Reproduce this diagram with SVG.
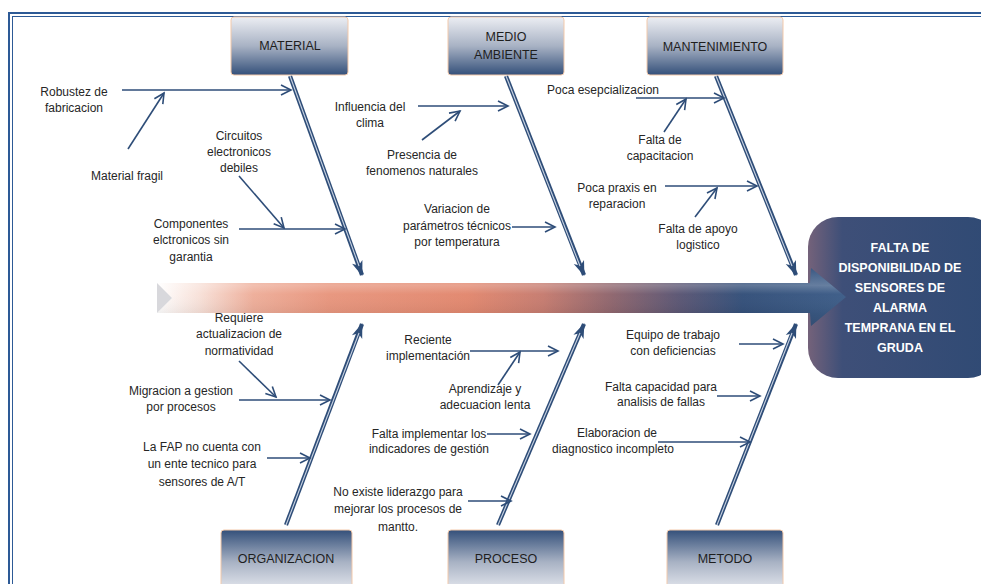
<svg xmlns="http://www.w3.org/2000/svg" width="981" height="584" viewBox="0 0 981 584">
<style>
.t{font-family:"Liberation Sans",Arial,sans-serif;font-size:12px;fill:#262626;text-anchor:middle}
.bl{font-family:"Liberation Sans",Arial,sans-serif;font-size:12.5px;fill:#1e1e1e;text-anchor:middle}
.h{font-family:"Liberation Sans",Arial,sans-serif;font-size:12.5px;font-weight:bold;fill:#ffffff;text-anchor:middle}
.a{stroke:#2e4d78;stroke-width:1.6;fill:none}
.bo{stroke:#2e4d78;stroke-width:4.2;fill:none}
.bi{stroke:#c9d3e2;stroke-width:1.1;fill:none}
.tb{fill:url(#gTop);stroke:#f3c9aa;stroke-width:1}
.bb{fill:url(#gBot);stroke:#f3c9aa;stroke-width:1}
</style>
<defs>
<marker id="ah" markerUnits="userSpaceOnUse" markerWidth="14" markerHeight="14" viewBox="-12 -7 14 14" refX="0" refY="0" orient="auto">
<path d="M-10,-5 L0,0 L-10,5" fill="none" stroke="#2e4d78" stroke-width="1.6"/>
</marker>
<marker id="bh" markerUnits="userSpaceOnUse" markerWidth="18" markerHeight="14" viewBox="-16 -7 18 14" refX="0" refY="0" orient="auto">
<path d="M-14,-5.5 L1,0 L-14,5.5 L-10,0 z" fill="#2e4d78"/>
</marker>
<linearGradient id="gTop" x1="0" y1="0" x2="0" y2="1">
<stop offset="0" stop-color="#eceef3"/>
<stop offset="0.5" stop-color="#a8b2c4"/>
<stop offset="1" stop-color="#34507a"/>
</linearGradient>
<linearGradient id="gBot" x1="0" y1="0" x2="0" y2="1">
<stop offset="0" stop-color="#34507a"/>
<stop offset="0.5" stop-color="#a8b2c4"/>
<stop offset="1" stop-color="#eceef3"/>
</linearGradient>
<linearGradient id="gSpine" x1="157" y1="0" x2="846" y2="0" gradientUnits="userSpaceOnUse">
<stop offset="0" stop-color="#ffffff"/>
<stop offset="0.06" stop-color="#f8e2da"/>
<stop offset="0.14" stop-color="#eeae9a"/>
<stop offset="0.25" stop-color="#e8967e"/>
<stop offset="0.45" stop-color="#e2886f"/>
<stop offset="0.56" stop-color="#c67c70"/>
<stop offset="0.66" stop-color="#8f666e"/>
<stop offset="0.76" stop-color="#5a5674"/>
<stop offset="0.85" stop-color="#34507a"/>
<stop offset="1" stop-color="#3d5d88"/>
</linearGradient>
<linearGradient id="gShine" x1="0" y1="268" x2="0" y2="326" gradientUnits="userSpaceOnUse">
<stop offset="0" stop-color="#ffffff" stop-opacity="0"/>
<stop offset="0.3" stop-color="#ffffff" stop-opacity="0.22"/>
<stop offset="0.45" stop-color="#ffffff" stop-opacity="0.02"/>
<stop offset="0.8" stop-color="#000000" stop-opacity="0.06"/>
<stop offset="1" stop-color="#000000" stop-opacity="0.12"/>
</linearGradient>
<linearGradient id="gHead" x1="0" y1="0" x2="1" y2="0">
<stop offset="0" stop-color="#74627a"/>
<stop offset="0.18" stop-color="#3e4f78"/>
<stop offset="1" stop-color="#2f4a74"/>
</linearGradient>
</defs>

<rect x="0" y="0" width="981" height="584" fill="#ffffff"/>
<g id="frame" fill="none" stroke="#2d5a96">
<rect x="9" y="13" width="990" height="600" stroke-width="2"/>
<rect x="12.5" y="16.5" width="990" height="600" stroke-width="1"/>
</g>

<g id="effect">
<rect x="808" y="217" width="190" height="161" rx="30" fill="url(#gHead)"/>
<text class="h" x="900" y="252">FALTA DE</text>
<text class="h" x="900" y="272">DISPONIBILIDAD DE</text>
<text class="h" x="900" y="292">SENSORES DE</text>
<text class="h" x="900" y="312">ALARMA</text>
<text class="h" x="900" y="332">TEMPRANA EN EL</text>
<text class="h" x="900" y="352">GRUDA</text>
</g>

<g id="spine">
<path d="M157,283 L810,283 L811,268 L846,297 L811,326 L810,313 L157,313 L172,298 z" fill="url(#gSpine)"/>
<path d="M157,283 L810,283 L811,268 L846,297 L811,326 L810,313 L157,313 L172,298 z" fill="url(#gShine)"/>
<path d="M157,283 L172,298 L157,313 z" fill="#d8d8dc"/>
</g>

<g id="connectors">
<line class="bo" x1="290" y1="76" x2="362" y2="275" marker-end="url(#bh)"/>
<line class="bi" x1="290" y1="76" x2="359" y2="266"/>
<line class="bo" x1="506" y1="76" x2="584" y2="275" marker-end="url(#bh)"/>
<line class="bi" x1="506" y1="76" x2="580" y2="266"/>
<line class="bo" x1="716" y1="76" x2="796" y2="275" marker-end="url(#bh)"/>
<line class="bi" x1="716" y1="76" x2="792" y2="266"/>
<line class="bo" x1="286" y1="525" x2="362" y2="324" marker-end="url(#bh)"/>
<line class="bi" x1="286" y1="525" x2="359" y2="333"/>
<line class="bo" x1="498" y1="525" x2="584" y2="324" marker-end="url(#bh)"/>
<line class="bi" x1="498" y1="525" x2="580" y2="333"/>
<line class="bo" x1="717" y1="525" x2="796" y2="324" marker-end="url(#bh)"/>
<line class="bi" x1="717" y1="525" x2="792" y2="333"/>

<line class="a" x1="122" y1="90" x2="291" y2="90" marker-end="url(#ah)"/>
<line class="a" x1="128" y1="149" x2="164" y2="93" marker-end="url(#ah)"/>
<line class="a" x1="239" y1="176" x2="284" y2="228" marker-end="url(#ah)"/>
<line class="a" x1="239" y1="229" x2="345" y2="229" marker-end="url(#ah)"/>
<line class="a" x1="418" y1="106" x2="508" y2="106" marker-end="url(#ah)"/>
<line class="a" x1="422" y1="140" x2="460" y2="111" marker-end="url(#ah)"/>
<line class="a" x1="512" y1="227" x2="555" y2="227" marker-end="url(#ah)"/>
<line class="a" x1="636" y1="98" x2="724" y2="98" marker-end="url(#ah)"/>
<line class="a" x1="664" y1="132" x2="686" y2="99" marker-end="url(#ah)"/>
<line class="a" x1="665" y1="186" x2="757" y2="186" marker-end="url(#ah)"/>
<line class="a" x1="695" y1="217" x2="717" y2="188" marker-end="url(#ah)"/>
<line class="a" x1="239" y1="361" x2="276" y2="397" marker-end="url(#ah)"/>
<line class="a" x1="239" y1="400" x2="330" y2="400" marker-end="url(#ah)"/>
<line class="a" x1="267" y1="458" x2="310" y2="458" marker-end="url(#ah)"/>
<line class="a" x1="470" y1="351" x2="558" y2="351" marker-end="url(#ah)"/>
<line class="a" x1="498" y1="385" x2="520" y2="352" marker-end="url(#ah)"/>
<line class="a" x1="487" y1="434" x2="530" y2="434" marker-end="url(#ah)"/>
<line class="a" x1="468" y1="501" x2="511" y2="501" marker-end="url(#ah)"/>
<line class="a" x1="739" y1="344" x2="783" y2="344" marker-end="url(#ah)"/>
<line class="a" x1="717" y1="396" x2="760" y2="396" marker-end="url(#ah)"/>
<line class="a" x1="658" y1="442" x2="750" y2="442" marker-end="url(#ah)"/>
</g>

<g id="material"><rect class="tb" x="231" y="17" width="117" height="58" rx="3"/><text class="bl" x="290" y="50">MATERIAL</text></g>
<g id="medio-ambiente"><rect class="tb" x="448" y="17" width="116" height="58" rx="3"/><text class="bl" x="506" y="41">MEDIO</text><text class="bl" x="506" y="59">AMBIENTE</text></g>
<g id="mantenimiento"><rect class="tb" x="647" y="17" width="136" height="58" rx="3"/><text class="bl" x="715" y="51">MANTENIMIENTO</text></g>
<g id="organizacion"><rect class="bb" x="221" y="530" width="131" height="64" rx="3"/><text class="bl" x="286" y="563">ORGANIZACION</text></g>
<g id="proceso"><rect class="bb" x="448" y="530" width="116" height="64" rx="3"/><text class="bl" x="506" y="563">PROCESO</text></g>
<g id="metodo"><rect class="bb" x="667" y="530" width="116" height="64" rx="3"/><text class="bl" x="725" y="563">METODO</text></g>

<g id="c-robustez"><text class="t" x="74" y="96">Robustez de</text><text class="t" x="74" y="112">fabricacion</text></g>
<g id="c-fragil"><text class="t" x="127" y="180">Material fragil</text></g>
<g id="c-circuitos"><text class="t" x="239" y="140">Circuitos</text><text class="t" x="239" y="156">electronicos</text><text class="t" x="239" y="172">debiles</text></g>
<g id="c-componentes"><text class="t" x="191" y="228">Componentes</text><text class="t" x="191" y="244">elctronicos sin</text><text class="t" x="191" y="261">garantia</text></g>
<g id="c-clima"><text class="t" x="370" y="111">Influencia del</text><text class="t" x="370" y="127">clima</text></g>
<g id="c-fenomenos"><text class="t" x="422" y="159">Presencia de</text><text class="t" x="422" y="175">fenomenos naturales</text></g>
<g id="c-variacion"><text class="t" x="457" y="213">Variacion de</text><text class="t" x="457" y="230">parámetros técnicos</text><text class="t" x="457" y="246">por temperatura</text></g>
<g id="c-especializacion"><text class="t" x="603" y="94">Poca esepcializacion</text></g>
<g id="c-capacitacion"><text class="t" x="660" y="144">Falta de</text><text class="t" x="660" y="160">capacitacion</text></g>
<g id="c-praxis"><text class="t" x="617" y="192">Poca praxis en</text><text class="t" x="617" y="208">reparacion</text></g>
<g id="c-apoyo"><text class="t" x="698" y="233">Falta de apoyo</text><text class="t" x="698" y="249">logistico</text></g>
<g id="c-normatividad"><text class="t" x="239" y="322">Requiere</text><text class="t" x="239" y="338">actualizacion de</text><text class="t" x="239" y="355">normatividad</text></g>
<g id="c-migracion"><text class="t" x="181" y="395">Migracion a gestion</text><text class="t" x="181" y="411">por procesos</text></g>
<g id="c-fap"><text class="t" x="202" y="451">La FAP no cuenta con</text><text class="t" x="202" y="468">un ente tecnico para</text><text class="t" x="202" y="486">sensores de A/T</text></g>
<g id="c-reciente"><text class="t" x="428" y="344">Reciente</text><text class="t" x="428" y="360">implementación</text></g>
<g id="c-aprendizaje"><text class="t" x="485" y="393">Aprendizaje y</text><text class="t" x="485" y="409">adecuacion lenta</text></g>
<g id="c-indicadores"><text class="t" x="429" y="438">Falta implementar los</text><text class="t" x="429" y="453">indicadores de gestión</text></g>
<g id="c-liderazgo"><text class="t" x="398" y="496">No existe liderazgo para</text><text class="t" x="398" y="513">mejorar los procesos de</text><text class="t" x="398" y="531">mantto.</text></g>
<g id="c-equipo"><text class="t" x="673" y="339">Equipo de trabajo</text><text class="t" x="673" y="355">con deficiencias</text></g>
<g id="c-capacidad"><text class="t" x="661" y="391">Falta capacidad para</text><text class="t" x="661" y="406">analisis de fallas</text></g>
<g id="c-diagnostico"><text class="t" x="617" y="437">Elaboracion de</text><text class="t" x="613" y="453">diagnostico incompleto</text></g>
</svg>
